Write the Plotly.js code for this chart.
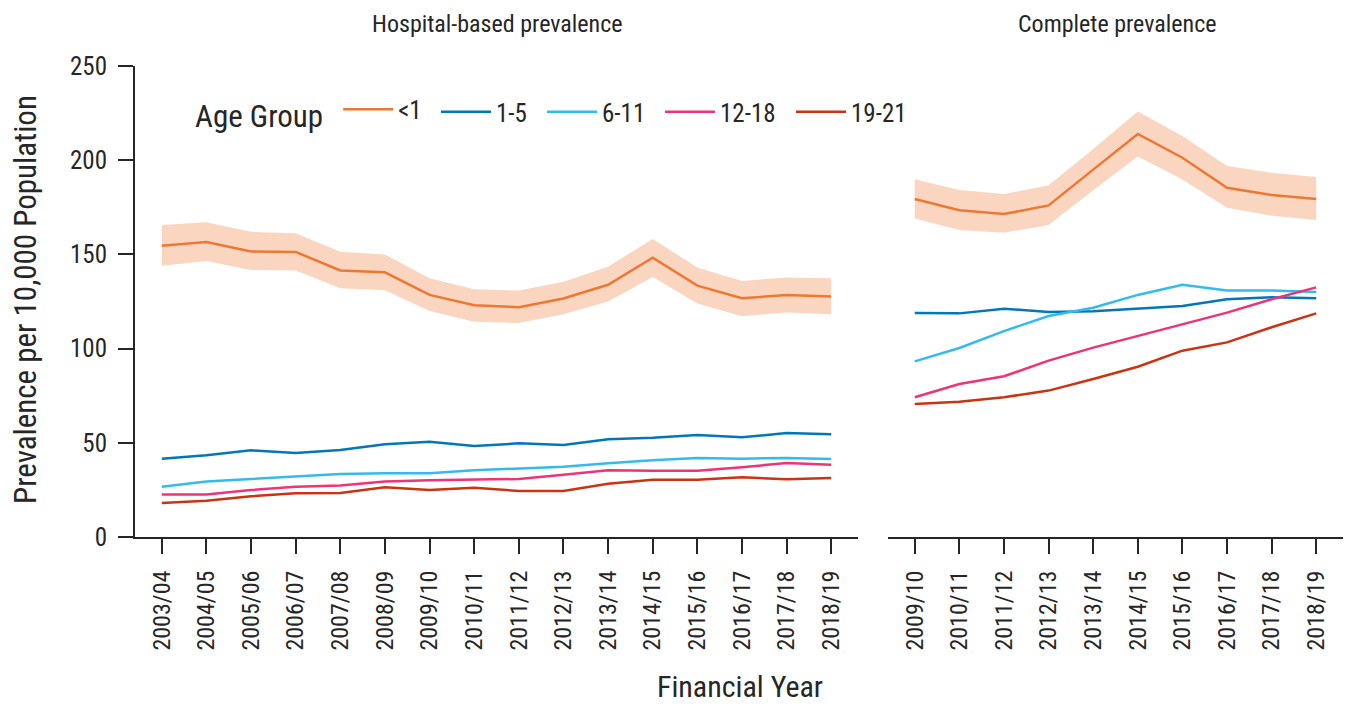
<!DOCTYPE html>
<html>
<head>
<meta charset="utf-8">
<script src="https://cdn.plot.ly/plotly-3.0.1.min.js"></script>
<style>html,body{margin:0;padding:0;background:#fff;}#chart{width:1349px;height:704px;}</style>
</head>
<body>
<div id="chart"></div>
<script>
// ---- Data ----
const hospYears = ["2003/04","2004/05","2005/06","2006/07","2007/08","2008/09","2009/10","2010/11","2011/12","2012/13","2013/14","2014/15","2015/16","2016/17","2017/18","2018/19"];
const compYears = ["2009/10","2010/11","2011/12","2012/13","2013/14","2014/15","2015/16","2016/17","2017/18","2018/19"];
const ageGroups = ["<1","1-5","6-11","12-18","19-21"];

// Hospital-based prevalence
const hospLt1      = [154.6,156.6,151.6,151.3,141.5,140.5,128.5,123.0,122.0,126.6,133.9,148.3,133.4,126.7,128.4,127.6];
const hospLt1Upper = [165.6,167.0,162.0,161.2,151.4,150.0,137.3,131.5,130.8,135.5,143.5,158.2,143.0,135.9,137.8,137.3];
const hospLt1Lower = [144.0,146.5,141.7,141.4,132.0,131.0,120.0,114.2,113.6,118.2,125.0,138.0,124.0,117.2,119.2,118.2];
const hosp1to5     = [41.6,43.4,46.0,44.6,46.2,49.2,50.6,48.3,49.7,48.8,51.9,52.7,54.1,52.9,55.2,54.5];
const hosp6to11    = [26.7,29.5,30.8,32.0,33.4,33.8,33.8,35.4,36.5,37.3,39.1,40.7,41.9,41.6,41.9,41.4];
const hosp12to18   = [22.5,22.6,24.9,26.7,27.4,29.4,30.1,30.6,30.8,33.1,35.4,35.2,35.2,37.0,39.3,38.4];
const hosp19to21   = [18.0,19.3,21.6,23.2,23.4,26.4,24.9,26.2,24.4,24.4,28.3,30.4,30.4,31.7,30.6,31.3];

// Complete prevalence
const compLt1      = [179.4,173.4,171.4,176.0,195.0,213.9,201.3,185.4,181.5,179.4];
const compLt1Upper = [189.9,184.2,182.0,186.7,206.0,225.8,212.8,196.9,193.3,191.1];
const compLt1Lower = [169.1,163.0,161.5,165.6,184.0,201.9,189.8,174.8,170.5,168.3];
const comp1to5     = [118.9,118.7,121.2,119.4,119.8,121.2,122.6,126.2,127.2,126.7];
const comp6to11    = [93.2,100.3,109.3,117.3,121.7,128.5,133.9,130.8,130.8,130.0];
const comp12to18   = [74.2,81.2,85.3,93.6,100.5,106.7,113.2,119.1,126.2,132.5];
const comp19to21   = [70.6,71.8,74.2,77.7,83.9,90.4,98.9,103.3,111.3,118.7];

const yTickVals = [0,50,100,150,200,250];

// ---- Styles ----
const colors = ["#EE7733","#0077BB","#33BBEE","#EE3377","#CC3311"];
const bandColor = "rgba(238,119,51,0.3)";
const FONT = "'Roboto Condensed', 'Liberation Sans Narrow', 'Roboto', sans-serif";
const axisCol = "#262626";
const LW = 2.5;

const W = 1349, H = 704;
const px = v => v / W;
const py = v => (H - v) / H;

const traces = [];
function band(x, upper, lower, xa, ya) {
  traces.push({x: x, y: upper, xaxis: xa, yaxis: ya, type: "scatter", mode: "lines",
    line: {width: 0, color: bandColor}, showlegend: false, hoverinfo: "skip"});
  traces.push({x: x, y: lower, xaxis: xa, yaxis: ya, type: "scatter", mode: "lines",
    line: {width: 0, color: bandColor}, fill: "tonexty", fillcolor: bandColor, showlegend: false, hoverinfo: "skip"});
}
band(hospYears, hospLt1Upper, hospLt1Lower, "x", "y");
band(compYears, compLt1Upper, compLt1Lower, "x2", "y2");

const legendIds = ["legend","legend2","legend3","legend4","legend5"];
const hospSeries = [hospLt1, hosp1to5, hosp6to11, hosp12to18, hosp19to21];
const compSeries = [compLt1, comp1to5, comp6to11, comp12to18, comp19to21];
ageGroups.forEach((g, i) => {
  traces.push({x: hospYears, y: hospSeries[i], xaxis: "x", yaxis: "y", type: "scatter", mode: "lines",
    name: g, legendgroup: g, legend: legendIds[i], line: {color: colors[i], width: LW}});
});
ageGroups.forEach((g, i) => {
  traces.push({x: compYears, y: compSeries[i], xaxis: "x2", yaxis: "y2", type: "scatter", mode: "lines",
    name: g, legendgroup: g, showlegend: false, line: {color: colors[i], width: LW}});
});

const xCommon = {
  type: "category", showgrid: false, zeroline: false, showline: true, linecolor: axisCol, linewidth: 2,
  ticks: "outside", ticklen: 15, tickwidth: 2, tickcolor: axisCol, tickangle: -90,
  tickfont: {family: FONT, size: 24, color: "#262626"}, ticklabelstandoff: 7
};

function legendBox(xPix, withTitle) {
  const l = {
    orientation: "h", x: px(xPix), xanchor: "left", y: py(112), yanchor: "middle",
    font: {family: FONT, size: 25, color: "#262626"},
    itemwidth: 50, bgcolor: "rgba(0,0,0,0)"
  };
  if (withTitle) l.title = {text: "Age Group ", side: "left", font: {family: FONT, size: 31, color: "#262626"}};
  return l;
}

const layout = {
  width: W, height: H,
  margin: {l: 0, r: 0, t: 0, b: 0},
  paper_bgcolor: "#fff", plot_bgcolor: "#fff",
  font: {family: FONT, color: "#262626"},
  showlegend: true,
  legend: legendBox(193, true),
  legend2: legendBox(436, false),
  legend3: legendBox(542, false),
  legend4: legendBox(660, false),
  legend5: legendBox(791, false),
  xaxis: Object.assign({}, xCommon, {domain: [px(135), px(858)], range: [-0.6, 15.6], anchor: "y"}),
  xaxis2: Object.assign({}, xCommon, {domain: [px(888), px(1343)], range: [-0.6, 9.6], anchor: "y2"}),
  yaxis: {
    domain: [py(537), py(66)], range: [0, 250], tickvals: yTickVals, showgrid: false, zeroline: false,
    showline: true, linecolor: axisCol, linewidth: 2, ticks: "outside", ticklen: 15, tickwidth: 2, tickcolor: axisCol,
    tickfont: {family: FONT, size: 25, color: "#262626"}, ticklabelstandoff: 6, anchor: "x"
  },
  yaxis2: {
    domain: [py(537), py(66)], range: [0, 250], matches: "y", showgrid: false, zeroline: false,
    showline: false, showticklabels: false, ticks: "", anchor: "x2"
  },
  annotations: [
    {text: "Hospital-based prevalence", xref: "paper", yref: "paper", x: px(497), y: py(24), xanchor: "center", yanchor: "middle",
      showarrow: false, font: {family: FONT, size: 24, color: "#262626"}},
    {text: "Complete prevalence", xref: "paper", yref: "paper", x: px(1117), y: py(24), xanchor: "center", yanchor: "middle",
      showarrow: false, font: {family: FONT, size: 24, color: "#262626"}},
    {text: "Financial Year", xref: "paper", yref: "paper", x: px(740), y: py(686), xanchor: "center", yanchor: "middle",
      showarrow: false, font: {family: FONT, size: 30, color: "#262626"}},
    {text: "Prevalence per 10,000 Population", xref: "paper", yref: "paper", x: px(25), y: py(300), xanchor: "center", yanchor: "middle",
      textangle: -90, showarrow: false, font: {family: FONT, size: 31, color: "#262626"}}
  ]
};

Plotly.newPlot("chart", traces, layout, {displayModeBar: false, responsive: false});
</script>
</body>
</html>
